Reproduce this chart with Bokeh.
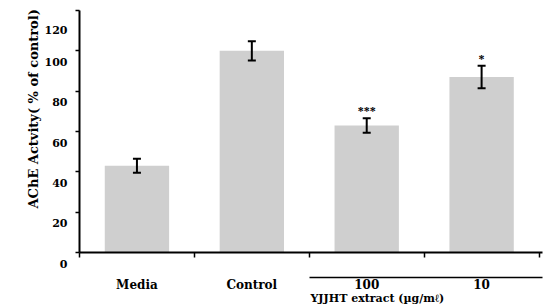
from bokeh.plotting import figure
from bokeh.models import (ColumnDataSource, Range1d, FixedTicker, LinearAxis,
                          Whisker, TeeHead, Title)
from bokeh.embed import file_html
from bokeh.resources import INLINE

# ---- data ----
categories = ["Media", "Control", "100", "10"]
activity = [43, 100, 63, 87]
sem = [3.5, 4.8, 3.6, 5.6]
significance = ["", "", "***", "*"]
y_ticks = [0, 20, 40, 60, 80, 100, 120]
y_title = "AChE Actvity( % of control)"
group_label = "YJJHT extract (µg/mℓ)"
group_members = ["100", "10"]

FONT = "DejaVu Serif"
n = len(categories)
xs = [i + 0.5 for i in range(n)]
src = ColumnDataSource(dict(
    x=xs, cat=categories, y=activity,
    upper=[a + e for a, e in zip(activity, sem)],
    lower=[a - e for a, e in zip(activity, sem)],
    sig=significance,
))

x_end = n + 0.03
p = figure(width=544, height=308, output_backend="svg", toolbar_location=None,
           x_range=Range1d(0, x_end), y_range=Range1d(0, 120),
           x_axis_location=None, y_axis_location=None,
           min_border_left=79, min_border_right=2, min_border_top=10,
           min_border_bottom=56)
p.outline_line_color = None
p.grid.visible = False

p.vbar(x="x", top="y", bottom=0, width=0.56, source=src,
       fill_color="#cfcfcf", line_color=None)

wh = Whisker(base="x", upper="upper", lower="lower", source=src,
             line_width=2, line_color="black", level="overlay",
             upper_head=TeeHead(size=8, line_width=2),
             lower_head=TeeHead(size=8, line_width=2))
p.add_layout(wh)

p.text(x="x", y="upper", text="sig", source=src, text_align="center",
       text_baseline="bottom", text_font="DejaVu Serif", text_font_style="bold",
       text_font_size="12px", text_color="black")

# ---- y axis: ticks on the values, labels sitting a bit lower ----
ya = LinearAxis(ticker=FixedTicker(ticks=y_ticks, minor_ticks=[]))
ya.major_label_overrides = {t: "\n" + str(t) for t in y_ticks}
ya.major_label_text_baseline = "top"
ya.major_label_text_line_height = 1.8
ya.major_tick_out = 4
ya.major_tick_in = 0
ya.major_tick_line_width = 1.5
ya.minor_tick_out = 0
ya.minor_tick_in = 0
ya.axis_line_width = 2
ya.major_label_standoff = 8
ya.major_label_text_font = FONT
ya.major_label_text_font_style = "bold"
ya.major_label_text_font_size = "11px"
ya.major_label_text_color = "black"
p.add_layout(ya, "left")

p.add_layout(Title(text=y_title, align="left", offset=44, text_font=FONT,
                   text_font_style="bold", text_font_size="13px",
                   text_color="black", standoff=2), "left")

# ---- x axis: line + boundary ticks (invisible corner tick pads the space) ----
xa = LinearAxis(ticker=FixedTicker(ticks=[0], minor_ticks=list(range(n + 1))))
xa.major_label_overrides = {0: ""}
xa.major_label_text_font_size = "0px"
xa.major_tick_out = 25
xa.major_tick_in = 0
xa.major_tick_line_color = None
xa.minor_tick_out = 5
xa.minor_tick_in = 0
xa.minor_tick_line_width = 1.5
xa.axis_line_width = 2
xa.major_label_standoff = 0
p.add_layout(xa, "below")

# group bracket line under the extract doses
g0 = categories.index(group_members[0])
ga = LinearAxis(ticker=FixedTicker(ticks=[], minor_ticks=[]), bounds=(g0, x_end))
ga.major_tick_out = 0
ga.major_tick_in = 0
ga.minor_tick_out = 0
ga.minor_tick_in = 0
ga.axis_line_width = 1.5
ga.major_label_standoff = 0
p.add_layout(ga, "below")

# category labels
ca = LinearAxis(ticker=FixedTicker(ticks=xs, minor_ticks=[]))
ca.major_label_overrides = {x: c for x, c in zip(xs, categories)}
ca.axis_line_color = None
ca.major_tick_out = 0
ca.major_tick_in = 0
ca.major_label_standoff = 0
ca.major_label_text_font = FONT
ca.major_label_text_font_style = "bold"
ca.major_label_text_font_size = "12px"
ca.major_label_text_color = "black"
p.add_layout(ca, "below")

p.add_layout(Title(text=group_label, align="left", offset=231, text_font=FONT,
                   text_font_style="bold", text_font_size="11px",
                   text_color="black", standoff=-20), "below")

open("out.html", "w").write(file_html(p, INLINE))
